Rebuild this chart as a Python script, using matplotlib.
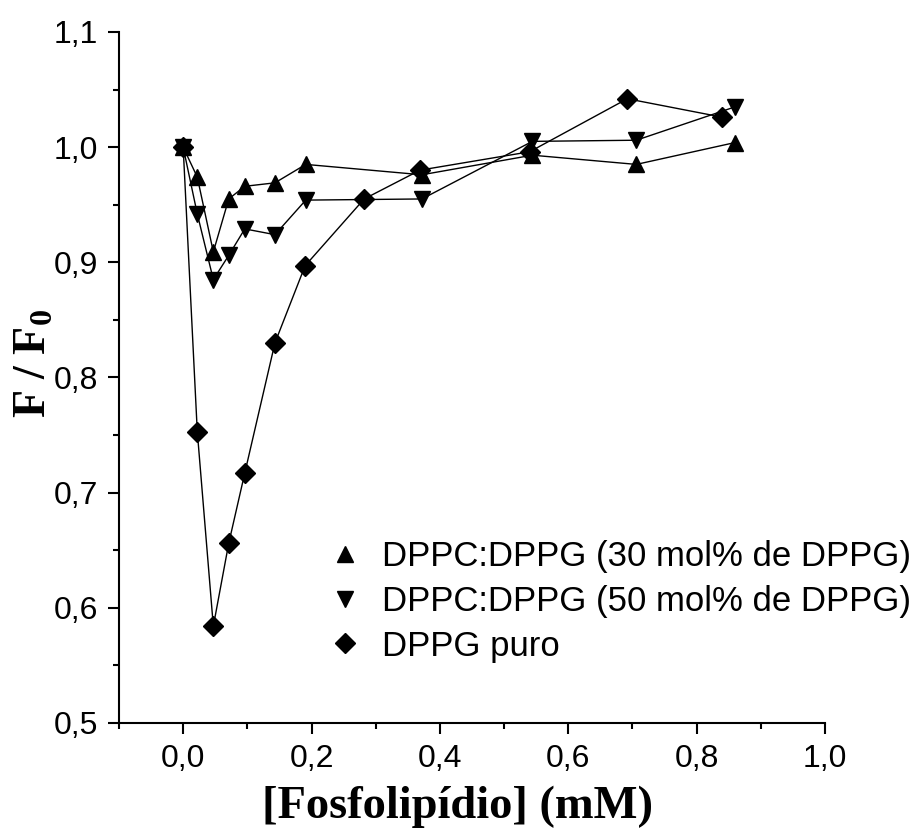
import numpy as np
import matplotlib
matplotlib.use('Agg')
import matplotlib.pyplot as plt
from matplotlib.ticker import MultipleLocator, FuncFormatter

# DPPC:DPPG (30 mol% de DPPG)
x_30 = [0.0, 0.022, 0.047, 0.071, 0.096, 0.143, 0.191, 0.372, 0.544, 0.706, 0.860]
y_30 = [1.000, 0.974, 0.909, 0.955, 0.966, 0.969, 0.985, 0.976, 0.993, 0.985, 1.004]

# DPPC:DPPG (50 mol% de DPPG)
x_50 = [0.0, 0.022, 0.047, 0.071, 0.096, 0.143, 0.191, 0.372, 0.544, 0.706, 0.860]
y_50 = [1.000, 0.942, 0.885, 0.906, 0.929, 0.924, 0.954, 0.955, 1.005, 1.006, 1.035]

# DPPG puro
x_pg = [0.0, 0.022, 0.047, 0.071, 0.096, 0.143, 0.190, 0.282, 0.369, 0.540, 0.692, 0.840]
y_pg = [1.000, 0.753, 0.584, 0.656, 0.717, 0.830, 0.897, 0.955, 0.980, 0.996, 1.042, 1.026]

labels = ['DPPC:DPPG (30 mol% de DPPG)', 'DPPC:DPPG (50 mol% de DPPG)', 'DPPG puro']

plt.rcParams['font.family'] = ['Liberation Sans', 'DejaVu Sans']
plt.rcParams['mathtext.fontset'] = 'custom'
plt.rcParams['mathtext.bf'] = 'Liberation Serif:bold'
plt.rcParams['mathtext.rm'] = 'Liberation Serif:bold'

fig = plt.figure(figsize=(9.11, 8.39), dpi=100)
ax = fig.add_axes([0.1306, 0.1383, 0.775, 0.8236])

lw = 1.0
ax.plot(x_30, y_30, color='black', lw=lw, marker='^', ms=12, label=labels[0])
ax.plot(x_50, y_50, color='black', lw=lw, marker='v', ms=12, label=labels[1])
ax.plot(x_pg, y_pg, color='black', lw=lw, marker='D', ms=10, label=labels[2])

ax.set_xlim(-0.1, 1.0)
ax.set_ylim(0.5, 1.1)
ax.xaxis.set_major_locator(MultipleLocator(0.2))
ax.xaxis.set_minor_locator(MultipleLocator(0.1))
ax.yaxis.set_major_locator(MultipleLocator(0.1))
ax.yaxis.set_minor_locator(MultipleLocator(0.05))
fmt = FuncFormatter(lambda v, p: ('%.1f' % v).replace('.', ','))
ax.xaxis.set_major_formatter(fmt)
ax.yaxis.set_major_formatter(fmt)

for s in ['top', 'right']:
    ax.spines[s].set_visible(False)
for s in ['left', 'bottom']:
    ax.spines[s].set_linewidth(1.5)

ax.tick_params(which='major', direction='out', length=8, width=1.5, labelsize=23, pad=7)
ax.tick_params(which='minor', direction='out', length=4, width=1.5)

ax.set_xlabel('[Fosfolipídio] (mM)', fontsize=33.5, fontweight='bold',
              family=['Liberation Serif', 'DejaVu Serif'])
ax.xaxis.set_label_coords(0.48, -0.091)
ax.set_ylabel(r'F / F$_\mathbf{0}$', fontsize=33, fontweight='bold',
              family=['Liberation Serif', 'DejaVu Serif'])
ax.yaxis.set_label_coords(-0.09, 0.52)

leg = ax.legend(loc='upper left', bbox_to_anchor=(0.2758, 0.285), frameon=False,
                fontsize=25, handlelength=1.0, handletextpad=0.57,
                labelspacing=0.34, borderaxespad=0)
for h in leg.legend_handles:
    h.set_linestyle('none')

fig.savefig('out.png', dpi=100)
